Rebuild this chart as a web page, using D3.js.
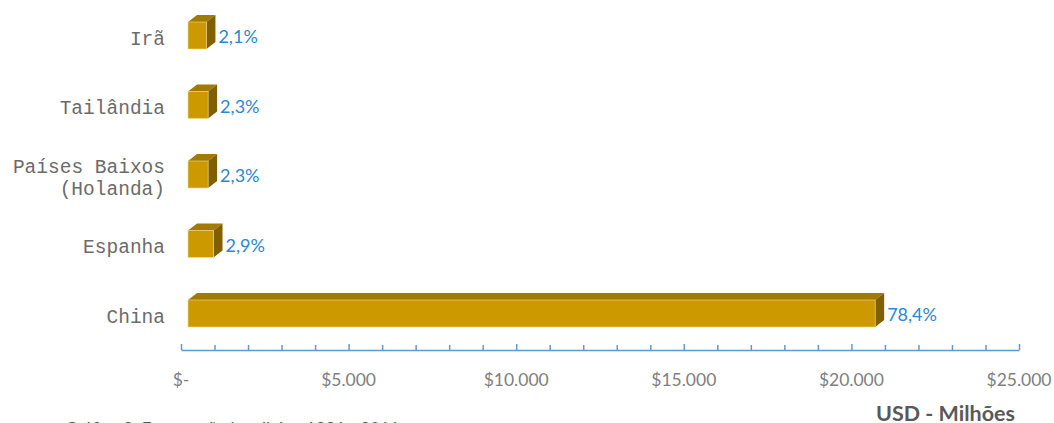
<!DOCTYPE html>
<html>
<head>
<meta charset="utf-8">
<script src="https://cdn.jsdelivr.net/npm/d3@7"></script>
<style>
  body { margin: 0; background: #fff; }
</style>
</head>
<body>
<div id="chart"></div>
<script>
// Data (USD - Milhões)
var categories = ["Irã", "Tailândia", "Países Baixos (Holanda)", "Espanha", "China"];
var catLines = [["Irã"], ["Tailândia"], ["Países Baixos", "(Holanda)"], ["Espanha"], ["China"]];
var values = [550, 600, 600, 760, 20500];
var shares = ["2,1%", "2,3%", "2,3%", "2,9%", "78,4%"];
var tickValues = [0, 5000, 10000, 15000, 20000, 25000];
var tickLabels = ["$-", "$5.000", "$10.000", "$15.000", "$20.000", "$25.000"];

var svgWidth = 1054, svgHeight = 423;

var svg = d3.select("#chart").append("svg")
  .attr("width", svgWidth)
  .attr("height", svgHeight);

// Scales
var x = d3.scaleLinear().domain([0, 25000]).range([181, 1019]);
var y = d3.scalePoint().domain(categories).range([35.5, 313.5]);

var barH = 27, dx = 9, dy = 7, shift = 7;
var axisY = 350;

// Axis line + ticks (ticks point up)
var axis = d3.axisBottom(x)
  .tickValues(d3.range(0, 25001, 1000))
  .tickSize(0)
  .tickFormat("");
var axisG = svg.append("g").attr("transform", `translate(0, ${axisY})`).call(axis);
axisG.select(".domain").attr("stroke", "#5B9BD5").attr("stroke-width", 1.5);
axisG.selectAll(".tick line")
  .attr("y1", 0)
  .attr("y2", d => d % 5000 === 0 ? -6 : -5)
  .attr("stroke", "#5B9BD5")
  .attr("stroke-width", 1.5);

// Tick labels
svg.append("g").selectAll("text")
  .data(tickValues)
  .enter().append("text")
  .attr("x", d => x(d))
  .attr("y", 386)
  .attr("text-anchor", "middle")
  .attr("font-family", "Lato, Carlito, sans-serif")
  .attr("font-size", 17.5)
  .attr("fill", "#808080")
  .text((d, i) => tickLabels[i]);

// Axis title
svg.append("text")
  .attr("x", 1015)
  .attr("y", 421)
  .attr("text-anchor", "end")
  .attr("font-family", "Lato, sans-serif")
  .attr("font-weight", "bold")
  .attr("font-size", 21.5)
  .attr("fill", "#595959")
  .text("USD - Milhões");

// Caption (mostly clipped at bottom, as in the source image)
svg.append("text")
  .attr("x", 65)
  .attr("y", 435)
  .attr("font-family", "Lato, sans-serif")
  .attr("font-size", 17)
  .attr("fill", "#595959")
  .text("Gráfico 2: Exportação brasileira, 1991 - 2011");

// 3D bars
var bars = svg.append("g").selectAll("g")
  .data(categories)
  .enter().append("g");

bars.each(function(c, i) {
  var g = d3.select(this);
  var x0 = x(0) + shift;
  var x1 = x0 + (x(values[i]) - x(0));
  var yT = y(c) - barH / 2;
  var yB = y(c) + barH / 2;

  // top face
  g.append("polygon")
    .attr("points", [[x0, yT], [x0 + dx, yT - dy], [x1 + dx, yT - dy], [x1, yT]].join(" "))
    .attr("fill", "#A37A00");
  // side face
  g.append("polygon")
    .attr("points", [[x1, yT], [x1 + dx, yT - dy], [x1 + dx, yB - dy], [x1, yB]].join(" "))
    .attr("fill", "#7F5F00");
  // front face
  g.append("rect")
    .attr("x", x0)
    .attr("y", yT)
    .attr("width", x1 - x0)
    .attr("height", barH)
    .attr("fill", "#CC9900")
    .attr("stroke", "#F2D98A")
    .attr("stroke-width", 0.6);

  // value label
  g.append("text")
    .attr("x", x1 + dx + 3)
    .attr("y", y(c) + 7.5)
    .attr("font-family", "Lato, Carlito, sans-serif")
    .attr("font-size", 18)
    .attr("fill", "#2E86D1")
    .text(shares[i]);
});

// Category labels
var catG = svg.append("g").selectAll("text")
  .data(categories)
  .enter().append("text")
  .attr("text-anchor", "end")
  .attr("font-family", "'Liberation Mono', 'Courier New', monospace")
  .attr("font-size", 19.5)
  .attr("fill", "#6B6B6B");

catG.each(function(c, i) {
  var lines = catLines[i];
  var t = d3.select(this);
  var base = y(c) + 9 - (lines.length - 1) * 11;
  lines.forEach(function(l, j) {
    t.append("tspan")
      .attr("x", 165)
      .attr("y", base + j * 22)
      .text(l);
  });
});
</script>
</body>
</html>
